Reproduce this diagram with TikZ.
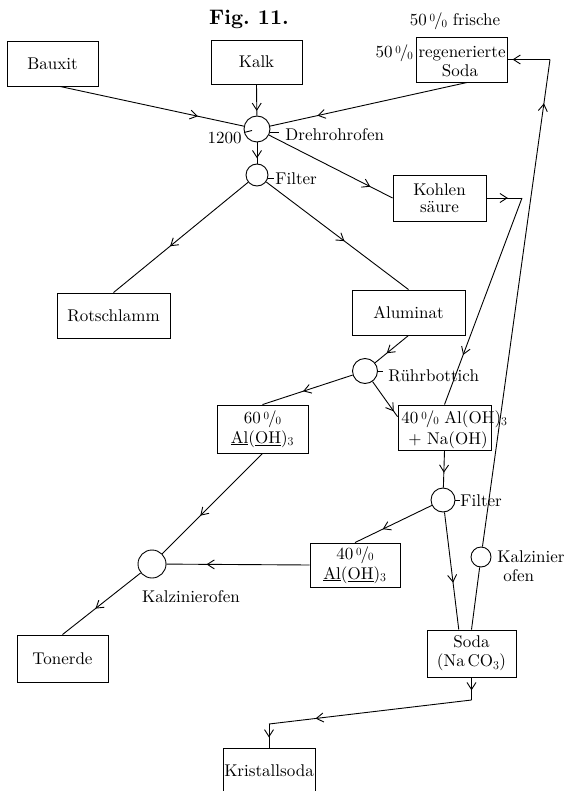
\documentclass[tikz,border=0pt]{standalone}
\usepackage{fontspec}
\setmainfont{lmroman10-regular.otf}[BoldFont=lmroman10-bold.otf]
\usetikzlibrary{arrows.meta,decorations.markings}
\newcommand{\pz}{\raisebox{4pt}{\fontsize{11}{11}\selectfont 0}\kern-1pt/\kern-1pt\raisebox{-1.5pt}{\fontsize{11}{11}\selectfont 0}}
\begin{document}
\begin{tikzpicture}[x=1pt, y=-1pt, line width=.9pt,
	font=\fontsize{17}{19}\selectfont,
	kasten/.style={draw, rectangle, inner sep=0pt, align=center, minimum width=91pt, minimum height=45pt},
	ofen/.style={draw, circle, inner sep=0pt, minimum size=#1},
	ofen/.default=26pt,
	txt/.style={inner sep=0pt},
	fl/.style={postaction={decorate}, decoration={markings, mark=at position #1 with {\arrow{Straight Barb[length=7pt,width=9pt]}}}},
	fl/.default=.6]
	\useasboundingbox (0,0) rectangle (567,791);
	\clip (0,0) rectangle (567,791);
	\node[txt, font=\fontsize{21}{24}\selectfont\bfseries, anchor=base] (fig) at (249,25) {Fig.\ 11.};
	\node[kasten] (bauxit) at (52.5,63.5) {Bauxit};
	\node[kasten, minimum height=44pt] (kalk) at (256.5,62) {Kalk};
	\node[kasten] (rsoda) at (461.5,59.5) {};
	\node[txt, anchor=base] (frisch) at (455,26) {50\,\pz\ frische};
	\node[txt, anchor=base east] (regen) at (506,58) {50\,\pz\ regenerierte};
	\node[txt, anchor=base] (sodat) at (460,77) {Soda};
	\node[ofen] (dreh) at (257,129) {};
	\node[ofen=22pt] (filt1) at (257,175) {};
	\node[txt, anchor=base east] (t1200) at (242,144) {1200};
	\node[txt, anchor=base west] (drehl) at (285,141) {Drehrohrofen};
	\node[txt, anchor=base west] (filt1l) at (275,185) {Filter};
	\node[kasten, minimum width=93pt, minimum height=46pt, font=\fontsize{17}{17}\selectfont] (kohlen) at (439.5,198) {Kohlen\\säure};
	\node[kasten, minimum width=113pt] (rot) at (113.5,315.5) {Rotschlamm};
	\node[kasten, minimum width=113pt] (alum) at (408.5,312.5) {Aluminat};
	\node[ofen=25pt] (ruehr) at (365,371) {};
	\node[txt, anchor=base west] (ruehrl) at (388,381) {Rührbottich};
	\node[kasten, minimum height=48pt, font=\fontsize{17}{20}\selectfont] (sixty) at (262.5,429) {60\,\pz\\\underline{Al}(\underline{OH})$_3$};
	\node[kasten, minimum width=93pt] (fortyna) at (444.5,427.5) {};
	\node[txt, anchor=base west] (fna1) at (401,423) {40\,\pz\ Al(OH)$_3$};
	\node[txt, anchor=base] (fna2) at (448,444) {+ Na(OH)};
	\node[ofen=24pt] (filt2) at (443,500) {};
	\node[txt, anchor=base west] (filt2l) at (460,506) {Filter};
	\node[kasten, minimum width=90pt, minimum height=44pt, font=\fontsize{17}{20}\selectfont] (fortyl) at (355,565) {40\,\pz\\\underline{Al}(\underline{OH})$_3$};
	\node[ofen=28pt] (kalzl) at (152,564) {};
	\node[txt] (kalzll) at (191,597) {Kalzinierofen};
	\node[ofen=20pt] (kalzr) at (481,557) {};
	\node[txt, anchor=west, align=left] (kalzrl) at (497,566) {Kalzinier\\\hspace*{6pt}ofen};
	\node[kasten, minimum height=47pt] (toner) at (62.5,658.5) {Tonerde};
	\node[kasten, minimum width=89pt, minimum height=47pt] (sodab) at (471.5,653.5) {Soda\\(Na\,CO$_3$)};
	\node[kasten, minimum width=92pt, minimum height=46pt] (krist) at (269,771) {Kristallsoda};
	\coordinate (kk) at (522,198);
	\coordinate (top) at (550,59.5);
	\coordinate (s1) at (471.5,700);
	\coordinate (s2) at (269,724);
	\draw[fl=.75] (bauxit.-72) -- (dreh);
	\draw[fl=.85] (kalk.south) -- (dreh);
	\draw[fl=.76] (rsoda.-76) -- (dreh);
	\draw[fl=.75] (dreh) -- (filt1);
	\draw[fl=.82] (dreh) -- (kohlen.west);
	\draw[fl=.58] (filt1) -- (rot.north);
	\draw[fl=.55] (filt1) -- (alum.north);
	\draw[fl=.6] (kohlen.east) -- (kk);
	\draw[fl=.76] (kk) -- (fortyna.north);
	\draw[fl=.65] (alum.south) -- (ruehr);
	\draw[fl=.55] (ruehr) -- (sixty.north);
	\draw[fl=.85] (ruehr) -- (fortyna.167);
	\draw[fl=.6] (fortyna.south) -- (filt2);
	\draw[fl=.64] (filt2) -- (fortyl.north);
	\draw[fl=.6] (filt2) -- (sodab.118);
	\draw[fl=.72] (fortyl.west) -- (kalzl);
	\draw[fl=.62] (sixty.south) -- (kalzl);
	\draw[fl=.58] (kalzl) -- (toner.north);
	\draw (sodab.north) -- (kalzr);
	\draw[fl=.91] (kalzr) -- (top);
	\draw[fl=.88] (top) -- (rsoda.east);
	\draw[fl=.57] (sodab.south) -- (s1);
	\draw[fl=.77] (s1) -- (s2);
	\draw[fl=.57] (s2) -- (krist.north);
	\draw (dreh.195) -- ++(8,-2);
	\draw (dreh.-15) -- ++(9,0);
	\draw (filt1.-20) -- ++(6,0);
	\draw (ruehr.east) -- ++(5,0);
	\draw (filt2.east) -- ++(5,0);
\end{tikzpicture}
\end{document}
